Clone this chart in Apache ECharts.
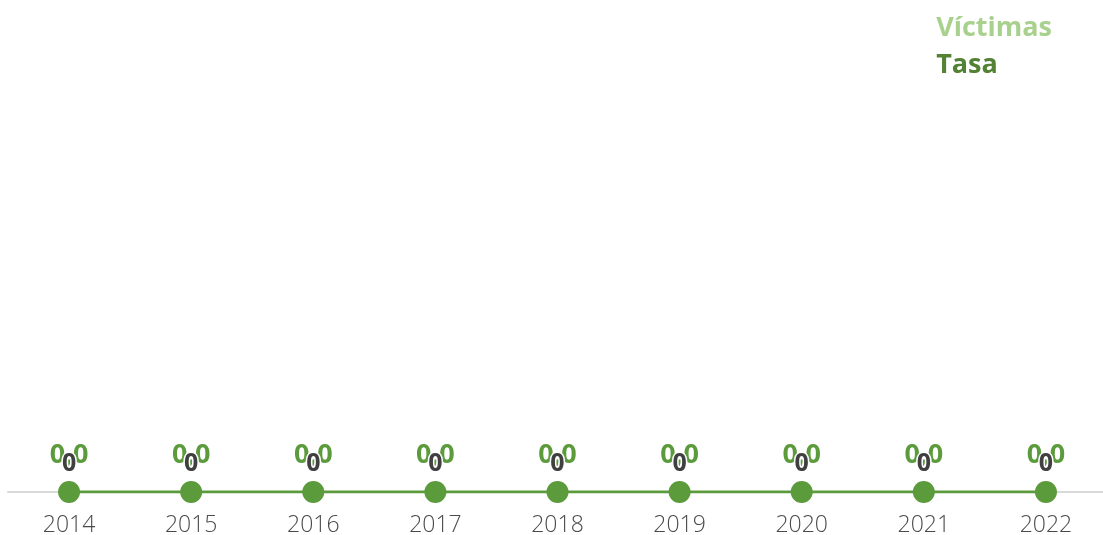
<!DOCTYPE html>
<html><head><meta charset="utf-8">
<script src="https://cdn.jsdelivr.net/npm/echarts@6/dist/echarts.min.js"></script>
<style>html,body{margin:0;padding:0;background:#fff}#c{width:1103px;height:535px}</style>
</head><body><div id="c"></div>
<script>
const years = ['2014','2015','2016','2017','2018','2019','2020','2021','2022'];
const victimas = [0,0,0,0,0,0,0,0,0];
const tasa = [0,0,0,0,0,0,0,0,0];

const chart = echarts.init(document.getElementById('c'), null, {renderer:'canvas'});
chart.setOption({
  animation:false,
  backgroundColor:'#fff',
  legend:{
    orient:'vertical', right:46, top:10, itemWidth:0, itemHeight:0, itemGap:10,
    selectedMode:false,
    data:[
      {name:'Víctimas', icon:'none', textStyle:{color:'#a9d18e'}},
      {name:'Tasa', icon:'none', textStyle:{color:'#548235'}}
    ],
    textStyle:{fontFamily:'Open Sans', fontWeight:'bold', fontSize:27, padding:[0,0,0,-5]}
  },
  grid:{left:8, right:-4, top:100, bottom:43, outerBoundsMode:'none', containLabel:false},
  xAxis:{
    type:'category', data:years,
    axisLine:{lineStyle:{color:'#d9d9d9', width:2}},
    axisTick:{show:false},
    axisLabel:{color:'#4a4a4a', fontSize:23, fontFamily:'Open Sans', fontWeight:300, margin:22}
  },
  yAxis:[{type:'value', min:0, max:10, show:false, splitLine:{show:false}},
         {type:'value', min:0, max:10, show:false, splitLine:{show:false}}],
  series:[
    {name:'Víctimas', type:'bar', data:victimas, itemStyle:{color:'#a9d18e'}, z:3,
     label:{show:true, position:'top', distance:16, color:'#404040', fontSize:25, fontWeight:'bold',
            fontFamily:'Open Sans', textBorderColor:'#fff', textBorderWidth:3,
            formatter:p=>String(p.value)}},
    {name:'Tasa', type:'line', yAxisIndex:1, data:tasa, symbol:'circle', symbolSize:22,
     lineStyle:{color:'#5b9b3c', width:3}, itemStyle:{color:'#5b9b3c'}, z:2,
     label:{show:true, position:'top', distance:12, color:'#5b9b3c', fontSize:27, fontWeight:'bold',
            fontFamily:'Open Sans', formatter:p=>p.value.toFixed(1).replace('.',',')}}
  ]
});
</script></body></html>
